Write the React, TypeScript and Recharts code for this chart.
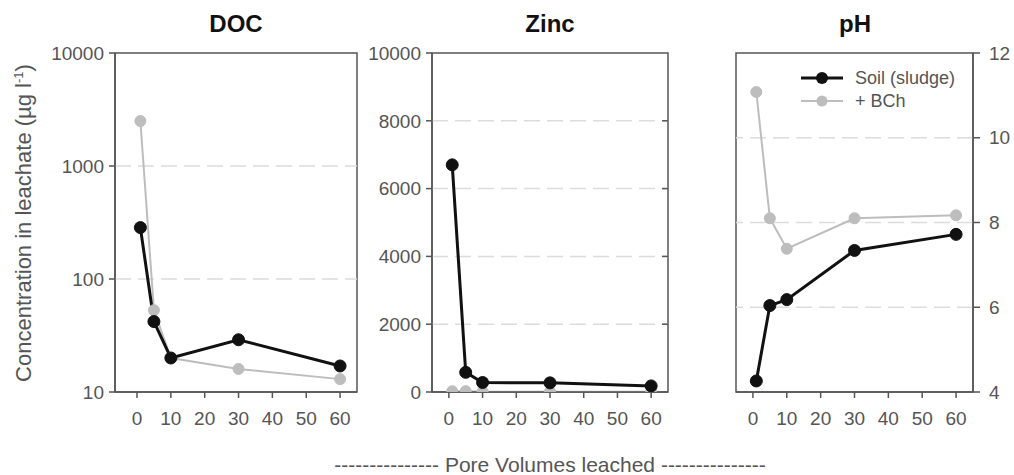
import { Legend, Line, LineChart, ReferenceArea, ReferenceLine, XAxis, YAxis } from "recharts";

// pore volumes leached at each sampling
const poreVolumes = [1, 5, 10, 30, 60];
const xTicks = [0, 10, 20, 30, 40, 50, 60];

const seriesNames = ["Soil (sludge)", "+ BCh"];

const docSoil = [285, 42, 20, 29, 17];
const docBch = [2500, 53, 20, 16, 13];
const docTicks = [10, 100, 1000, 10000];
const docGrid = [100, 1000];

const zincSoil = [6700, 580, 280, 270, 180];
const zincBch = [25, 25, 10, 10, 10];
const zincTicks = [0, 2000, 4000, 6000, 8000, 10000];
const zincGrid = [2000, 4000, 6000, 8000];

const phSoil = [4.26, 6.04, 6.18, 7.34, 7.72];
const phBch = [11.08, 8.1, 7.38, 8.1, 8.17];
const phTicks = [4, 6, 8, 10, 12];
const phGrid = [6, 8, 10];

const W = 1014;
const H = 475;
const TOP = 53;
const BOTTOM = 392;
const X_AXIS_H = 40;
const Y_AXIS_W = 70;
const FONT = '"Liberation Sans", Arial, Helvetica, sans-serif';
const AXIS = "#555";
const TEXT = "#555";
const SOIL = "#111";
const BCH = "#bdbdbd";
const GRID = "#dcdcdc";

const tickStyle = { fill: TEXT, fontSize: 19, fontFamily: FONT };

type PanelProps = {
  soil: number[];
  bch: number[];
  left: number;
  right: number;
  xDomain: [number, number];
  yDomain: [number, number];
  yTicks: number[];
  grid: number[];
  log?: boolean;
  side: "left" | "right";
  innerTicks?: number[];
  legend?: boolean;
};

function LegendBox({ payload }: any) {
  const items = [...(payload ?? [])].sort(
    (a: any, b: any) => seriesNames.indexOf(a.value) - seriesNames.indexOf(b.value)
  );
  return (
    <svg width={200} height={50} style={{ display: "block", overflow: "visible" }}>
      {items.map((it: any, i: number) => {
        const y = 12 + i * 23;
        return (
          <g key={it.value}>
            <line x1={1} x2={43} y1={y} y2={y} stroke={it.color} strokeWidth={i === 0 ? 3 : 2} />
            <circle cx={22} cy={y} r={i === 0 ? 6 : 5.5} fill={it.color} />
            <text x={55} y={y} dy="0.36em" fill={TEXT} fontSize={18} fontFamily={FONT}>
              {it.value}
            </text>
          </g>
        );
      })}
    </svg>
  );
}

function Panel(p: PanelProps) {
  const rows = poreVolumes.map((pv, i) => ({ pv, soil: p.soil[i], bch: p.bch[i] }));
  const margin =
    p.side === "left"
      ? { top: TOP, bottom: H - BOTTOM - X_AXIS_H, left: p.left - Y_AXIS_W, right: W - p.right }
      : { top: TOP, bottom: H - BOTTOM - X_AXIS_H, left: p.left, right: W - p.right - Y_AXIS_W };
  // short inward tick on the right frame, about 6px long
  const tickLen = (6 * (p.xDomain[1] - p.xDomain[0])) / (p.right - p.left);

  return (
    <div style={{ position: "absolute", left: 0, top: 0 }}>
      <LineChart width={W} height={H} data={rows} margin={margin}>
        <XAxis
          xAxisId="x"
          dataKey="pv"
          type="number"
          domain={p.xDomain}
          ticks={xTicks}
          allowDataOverflow
          height={X_AXIS_H}
          stroke={AXIS}
          strokeWidth={1.5}
          tickSize={6}
          tickMargin={14}
          tick={tickStyle}
        />
        <YAxis
          yAxisId="v"
          orientation={p.side}
          type="number"
          scale={p.log ? "log" : "auto"}
          domain={p.yDomain}
          ticks={p.yTicks}
          allowDataOverflow
          width={Y_AXIS_W}
          stroke={AXIS}
          strokeWidth={1.5}
          tickSize={p.side === "left" ? 6 : 7}
          tickMargin={p.side === "left" ? 5 : 9}
          tick={tickStyle}
        />
        {p.grid.map((v) => (
          <ReferenceLine
            key={v}
            xAxisId="x"
            yAxisId="v"
            y={v}
            stroke={GRID}
            strokeWidth={1.5}
            strokeDasharray="16 7"
          />
        ))}
        {(p.innerTicks ?? []).map((v) => (
          <ReferenceLine
            key={`t${v}`}
            xAxisId="x"
            yAxisId="v"
            segment={[
              { x: p.xDomain[1] - tickLen, y: v },
              { x: p.xDomain[1], y: v },
            ]}
            stroke={AXIS}
            strokeWidth={1.5}
          />
        ))}
        <ReferenceArea
          xAxisId="x"
          yAxisId="v"
          x1={p.xDomain[0]}
          x2={p.xDomain[1]}
          y1={p.yDomain[0]}
          y2={p.yDomain[1]}
          fill="none"
          stroke={AXIS}
          strokeWidth={1.5}
        />
        <Line
          xAxisId="x"
          yAxisId="v"
          dataKey="bch"
          name={seriesNames[1]}
          type="linear"
          stroke={BCH}
          strokeWidth={2}
          dot={{ r: 5.5, fill: BCH, stroke: BCH, strokeWidth: 1 }}
          isAnimationActive={false}
        />
        <Line
          xAxisId="x"
          yAxisId="v"
          dataKey="soil"
          name={seriesNames[0]}
          type="linear"
          stroke={SOIL}
          strokeWidth={3}
          dot={{ r: 6, fill: SOIL, stroke: SOIL, strokeWidth: 1 }}
          isAnimationActive={false}
        />
        {p.legend && (
          <Legend
            layout="vertical"
            align="center"
            verticalAlign="middle"
            content={<LegendBox />}
            wrapperStyle={{ left: 800, top: 66, width: 200 }}
          />
        )}
      </LineChart>
    </div>
  );
}

export default function App() {
  return (
    <div style={{ position: "absolute", left: 0, top: 0, width: W, height: H, background: "#fff" }}>
      <Panel
        soil={docSoil}
        bch={docBch}
        left={115}
        right={357}
        xDomain={[-6.5, 65]}
        yDomain={[10, 10000]}
        yTicks={docTicks}
        grid={docGrid}
        log
        side="left"
      />
      <Panel
        soil={zincSoil}
        bch={zincBch}
        left={432}
        right={668}
        xDomain={[-5, 65]}
        yDomain={[0, 10000]}
        yTicks={zincTicks}
        grid={zincGrid}
        side="left"
        innerTicks={zincGrid}
      />
      <Panel
        soil={phSoil}
        bch={phBch}
        left={736}
        right={973}
        xDomain={[-5, 65]}
        yDomain={[4, 12]}
        yTicks={phTicks}
        grid={phGrid}
        side="right"
        legend
      />
      <svg
        width={W}
        height={H}
        style={{ position: "absolute", left: 0, top: 0, pointerEvents: "none" }}
        fontFamily={FONT}
      >
        <g fontSize={24} fontWeight="bold" fill="#111" textAnchor="middle">
          <text x={236} y={32}>DOC</text>
          <text x={550} y={32}>Zinc</text>
          <text x={855} y={32}>pH</text>
        </g>
        <text
          transform="translate(31 223) rotate(-90)"
          textAnchor="middle"
          fontSize={22}
          fill={TEXT}
        >
          Concentration in leachate (µg l
          <tspan dy={-8} fontSize={13}>-1</tspan>
          <tspan dy={8}>)</tspan>
        </text>
        <text x={550} y={472} textAnchor="middle" fontSize={21} fill={TEXT}>
          --------------- Pore Volumes leached ---------------
        </text>
      </svg>
    </div>
  );
}
